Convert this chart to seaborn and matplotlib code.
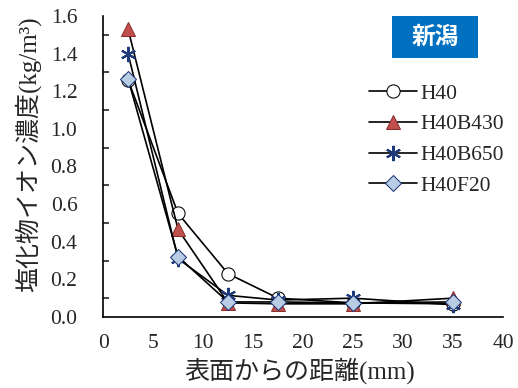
import pandas as pd
import numpy as np
import matplotlib
matplotlib.use('Agg')
import matplotlib.pyplot as plt
import seaborn as sns
from matplotlib.ticker import MultipleLocator
from matplotlib.patches import Rectangle

depth = [2.5, 7.5, 12.5, 17.5, 25, 35]
h40 = [1.26, 0.55, 0.23, 0.10, 0.075, 0.07]
h40b430 = [1.53, 0.465, 0.075, 0.07, 0.07, 0.10]
h40b650 = [1.40, 0.31, 0.115, 0.09, 0.10, 0.065]
h40f20 = [1.265, 0.32, 0.08, 0.08, 0.075, 0.08]
series_names = ['H40', 'H40B430', 'H40B650', 'H40F20']

sns.set_style('white')
plt.rcParams['font.family'] = ['Liberation Serif', 'Noto Sans CJK JP']

df = pd.DataFrame({
    'depth': depth * 4,
    'conc': h40 + h40b430 + h40b650 + h40f20,
    'series': np.repeat(series_names, len(depth)),
})

styles = {
    'H40': dict(marker='o', markerfacecolor='white', markeredgecolor='black', markersize=9.5),
    'H40B430': dict(marker='^', markerfacecolor='#C0504D', markeredgecolor='#8B2F2C', markersize=10),
    'H40B650': dict(marker=(6, 2, 0), markeredgecolor='#1F3A7A', markersize=11, markeredgewidth=1.5),
    'H40F20': dict(marker='D', markerfacecolor='#B8CCE4', markeredgecolor='#1F3A7A', markersize=8),
}

fig = plt.figure(figsize=(5.18, 3.88), dpi=100)
ax = fig.add_axes([0.199, 0.183, 0.772, 0.776])

for name in series_names:
    sub = df[df['series'] == name]
    sns.lineplot(data=sub, x='depth', y='conc', ax=ax, color='black', linewidth=1.2,
                 label=name, **styles[name])

ax.set_xlim(0, 40)
ax.set_ylim(0, 1.6)
ax.xaxis.set_major_locator(MultipleLocator(5))
ax.yaxis.set_major_locator(MultipleLocator(0.2))
ax.yaxis.set_minor_locator(MultipleLocator(0.1))
ax.yaxis.set_major_formatter(matplotlib.ticker.FormatStrFormatter('%.1f'))
ax.tick_params(axis='both', which='major', direction='inout', length=11, width=1.2,
               labelsize=15.5, color='black')
ax.tick_params(axis='y', which='minor', direction='in', length=4, width=1.2, left=True)
ax.tick_params(axis='x', which='major', pad=7)
ax.tick_params(axis='y', which='major', pad=13)
for s in ['top', 'right']:
    ax.spines[s].set_visible(False)
for s in ['left', 'bottom']:
    ax.spines[s].set_color('black')
    ax.spines[s].set_linewidth(1.2)

ax.set_xlabel('表面からの距離(mm)', fontsize=18)
ax.set_ylabel('塩化物イオン濃度(kg/m³)', fontsize=18)
ax.xaxis.set_label_coords(0.4925, -0.135)
ax.yaxis.set_label_coords(-0.155, 0.54)

leg = ax.legend(loc='upper right', bbox_to_anchor=(1.05, 0.84), frameon=False, fontsize=15.5,
                handlelength=2.2, handletextpad=0.15, labelspacing=0.5)

ax.add_patch(Rectangle((0.7225, 0.86), 0.215, 0.14, transform=ax.transAxes,
                       facecolor='#0070C0', edgecolor='none', zorder=5))
ax.text(0.83, 0.93, '新潟', transform=ax.transAxes, ha='center', va='center',
        fontsize=17, fontweight='bold', color='white', family=['Noto Sans CJK JP'], zorder=6)

fig.savefig('out.png', dpi=100)
